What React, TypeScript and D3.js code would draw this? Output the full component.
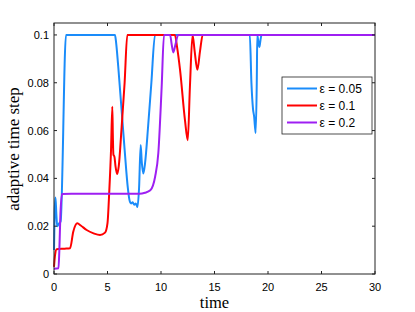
import React from 'react';
import * as d3 from 'd3';

// [time, step]
const eps005: [number, number][] = [
	[0, 0.01], [0.06, 0.026], [0.14, 0.032], [0.22, 0.025], [0.3, 0.02], [0.45, 0.021],
	[0.62, 0.022], [1.12, 0.1], [5.7, 0.1], [5.8, 0.097], [6.0, 0.087], [6.6, 0.052],
	[6.9, 0.036], [7.05, 0.031], [7.2, 0.0295], [7.35, 0.03], [7.5, 0.029], [7.65, 0.0295],
	[7.8, 0.028], [7.95, 0.036], [8.1, 0.054], [8.2, 0.047], [8.35, 0.042], [8.5, 0.046],
	[8.8, 0.062], [9.1, 0.08], [9.44, 0.1], [18.3, 0.1], [18.45, 0.08], [18.6, 0.069],
	[18.7, 0.066], [18.85, 0.059], [18.95, 0.08], [19.0, 0.1], [19.1, 0.097], [19.2, 0.095],
	[19.3, 0.098], [19.4, 0.1], [30, 0.1],
];
const eps01: [number, number][] = [
	[0, 0.003], [0.1, 0.008], [0.25, 0.0104], [1.0, 0.0106], [1.5, 0.0108], [1.8, 0.0177],
	[2.18, 0.0212], [2.5, 0.0203], [3.05, 0.0184], [3.7, 0.017], [4.3, 0.0163], [4.77, 0.0173],
	[5.0, 0.0213], [5.17, 0.035], [5.33, 0.052], [5.45, 0.07], [5.5, 0.058], [5.55, 0.05],
	[5.65, 0.049], [5.75, 0.045], [5.9, 0.0418], [6.05, 0.045], [6.3, 0.06], [6.6, 0.08],
	[6.85, 0.1], [11.3, 0.1], [11.5, 0.095], [11.78, 0.0854], [12.24, 0.0644], [12.5, 0.056],
	[12.7, 0.078], [12.95, 0.1], [13.15, 0.093], [13.4, 0.0854], [13.64, 0.093], [13.9, 0.1],
	[30, 0.1],
];
const eps02: [number, number][] = [
	[0, 0.0022], [0.42, 0.0024], [0.5, 0.01], [0.6, 0.025], [0.75, 0.0335], [8.0, 0.0336],
	[8.5, 0.034], [9.0, 0.035], [9.45, 0.0407], [9.75, 0.0506], [10.06, 0.078], [10.28, 0.1],
	[10.85, 0.1], [11.0, 0.096], [11.15, 0.0927], [11.35, 0.096], [11.6, 0.1], [30, 0.1],
];

const legendLabels = ['ε = 0.05', 'ε = 0.1', 'ε = 0.2'];
const colors = ['#1a8cfa', '#ff0000', '#9e1ff2'];
const xTicks = [0, 5, 10, 15, 20, 25, 30];
const yTicks = [0, 0.02, 0.04, 0.06, 0.08, 0.1];
const yTickLabels = ['0', '0.02', '0.04', '0.06', '0.08', '0.1'];

const W = 415;
const H = 312;
const left = 54, right = 375, top = 23, bottom = 274;

export default function App() {
	const x = d3.scaleLinear().domain([0, 30]).range([left, right]);
	const y = d3.scaleLinear().domain([0, 0.105]).range([bottom, top]);
	const lineGen = d3
		.line<[number, number]>()
		.x((d) => x(d[0]))
		.y((d) => y(d[1]))
		.curve(d3.curveMonotoneX);
	const series = [eps005, eps01, eps02];
	const sans = '"Liberation Sans", Arial, sans-serif';
	const serif = '"Liberation Serif", "Times New Roman", serif';

	return (
		<div style={{ position: 'fixed', left: 0, top: 0 }}>
			<svg width={W} height={H} style={{ display: 'block', background: '#fff' }}>
				{series.map((s, i) => (
					<path key={i} d={lineGen(s) || ''} fill="none" stroke={colors[i]} strokeWidth={2} strokeLinejoin="round" />
				))}
				{/* box */}
				<rect x={left} y={top} width={right - left} height={bottom - top} fill="none" stroke="#222" strokeWidth={1} />
				{xTicks.map((t) => (
					<g key={'x' + t}>
						<line x1={x(t)} x2={x(t)} y1={bottom} y2={bottom - 3} stroke="#222" />
						<line x1={x(t)} x2={x(t)} y1={top} y2={top + 3} stroke="#222" />
						<text x={x(t)} y={290.5} textAnchor="middle" fontFamily={sans} fontSize={11}>
							{t}
						</text>
					</g>
				))}
				{yTicks.map((t, i) => (
					<g key={'y' + t}>
						<line x1={left} x2={left + 3} y1={y(t)} y2={y(t)} stroke="#222" />
						<line x1={right} x2={right - 3} y1={y(t)} y2={y(t)} stroke="#222" />
						<text x={49} y={y(t) + 4} textAnchor="end" fontFamily={sans} fontSize={11}>
							{yTickLabels[i]}
						</text>
					</g>
				))}
				<text x={(left + right) / 2} y={307.5} textAnchor="middle" fontFamily={serif} fontSize={16.5}>
					time
				</text>
				<text
					transform={`translate(18.5, 149) rotate(-90)`}
					textAnchor="middle"
					fontFamily={serif}
					fontSize={17}
				>
					adaptive time step
				</text>
				{/* legend */}
				<rect x={282} y={77} width={90} height={57} fill="#fff" stroke="#222" strokeWidth={0.8} />
				{legendLabels.map((lab, i) => {
					const ly = 88.5 + i * 17;
					return (
						<g key={lab}>
							<line x1={287} x2={317} y1={ly} y2={ly} stroke={colors[i]} strokeWidth={2} />
							<text x={319.5} y={ly + 4.2} fontFamily={sans} fontSize={12}>
								{lab}
							</text>
						</g>
					);
				})}
			</svg>
		</div>
	);
}
